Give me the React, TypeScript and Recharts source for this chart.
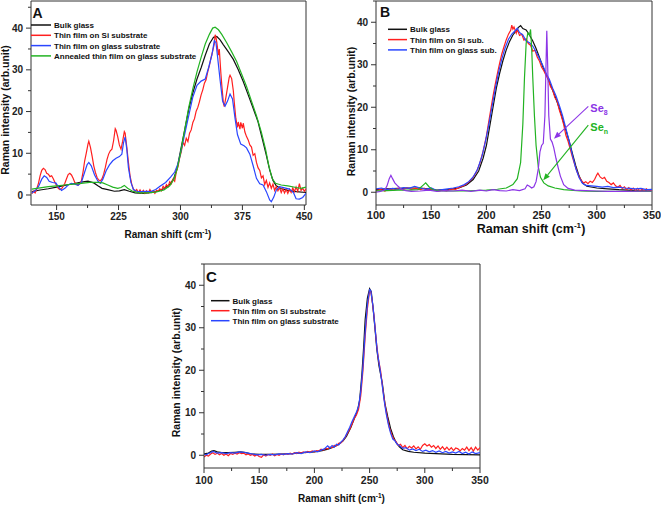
import React from 'react';
import { LineChart, Line, XAxis, YAxis, ReferenceLine } from 'recharts';

type Pt = [number, number];

// ---------- Panel A ----------
const aBulk: Pt[] = [
  [120, 0.8], [130, 1.2], [140, 1.5], [150, 1.9], [160, 2.3], [170, 2.7], [180, 3.1], [188, 3.3], [195, 2.9],
  [200, 2.2], [205, 1.6], [212, 1.3], [220, 0.9], [226, 1.0], [232, 1.3], [238, 0.9], [245, 0.5], [255, 0.4],
  [265, 0.6], [272, 0.9], [280, 1.5], [287, 2.5], [292, 4.0], [296, 6.5], [300, 10.5], [305, 15.5], [310, 20.5],
  [315, 24.5], [320, 27.8], [325, 30.5], [330, 33.5], [335, 36.2], [340, 37.8], [344, 38.0], [348, 37.2],
  [352, 36.0], [358, 34.3], [364, 32.5], [370, 30.0], [376, 27.2], [382, 24.0], [388, 20.8], [394, 17.5],
  [399, 13.5], [404, 9.5], [408, 6.0], [412, 3.5], [416, 2.2], [422, 1.5], [430, 1.1], [440, 0.8], [452, 0.6],
];

const aSiFilm: Pt[] = [
  [120, 0.3], [122, 0.9], [124, 0.5], [126, 1.5], [128, 2.8], [130, 4.6], [132, 5.9], [134, 6.4], [136, 6.1],
  [138, 5.2], [140, 5.0], [142, 4.4], [144, 4.6], [146, 3.9], [148, 3.0], [150, 2.3], [152, 1.6], [154, 1.3],
  [156, 1.5], [158, 2.1], [160, 2.8], [162, 3.9], [164, 4.9], [166, 5.2], [168, 4.8], [170, 4.0], [172, 3.0],
  [174, 2.6], [176, 2.4], [178, 2.7], [180, 3.4], [182, 5.5], [184, 8.2], [186, 10.1], [188, 12.2], [189, 12.9],
  [191, 11.4], [193, 9.3], [195, 7.0], [197, 5.4], [199, 4.2], [201, 3.6], [203, 3.4], [205, 3.9], [207, 5.0],
  [209, 6.6], [211, 8.5], [213, 9.8], [215, 10.6], [217, 11.0], [219, 13.0], [221, 15.9], [222, 15.5], [224, 14.0],
  [226, 12.0], [228, 11.0], [230, 12.9], [232, 15.2], [233, 14.8], [235, 11.5], [237, 7.8], [239, 4.5], [241, 2.6],
  [243, 1.4], [245, 0.9], [247, 1.3], [249, 0.6], [251, 1.2], [253, 0.5], [255, 1.1], [257, 0.4], [259, 1.0],
  [261, 0.5], [263, 1.3], [265, 0.6], [267, 0.9], [269, 0.4], [271, 1.1], [273, 0.9], [275, 1.5], [277, 1.0],
  [279, 2.1], [281, 1.6], [283, 2.5], [285, 2.0], [287, 3.2], [289, 2.7], [291, 3.8], [293, 3.3], [295, 5.6],
  [297, 6.8], [299, 8.9], [301, 10.4], [303, 12.6], [305, 11.9], [307, 13.6], [309, 12.8], [311, 14.8], [313, 15.6],
  [315, 17.4], [317, 18.3], [319, 20.1], [321, 21.0], [323, 22.4], [325, 24.0], [327, 25.2], [329, 26.8], [331, 27.6],
  [333, 29.5], [335, 31.0], [337, 32.9], [339, 34.5], [341, 36.3], [342, 38.4], [343, 37.8], [344, 36.6], [346, 33.5],
  [347, 35.0], [349, 29.0], [350, 26.4], [352, 22.0], [353, 21.2], [355, 23.4], [357, 25.8], [359, 28.2], [360, 28.7],
  [362, 27.9], [364, 25.0], [365, 22.5], [367, 18.4], [369, 16.2], [370, 17.5], [372, 15.8], [373, 17.4], [375, 16.0],
  [376, 17.2], [378, 15.1], [380, 14.0], [382, 13.2], [384, 12.0], [386, 11.5], [388, 9.5], [390, 9.9], [392, 7.8],
  [394, 6.5], [396, 5.9], [398, 4.1], [400, 4.6], [402, 2.5], [404, 3.5], [406, 1.8], [408, 2.9], [410, 1.6],
  [412, 2.6], [414, 1.1], [416, 2.0], [418, 1.0], [420, 1.8], [422, 0.6], [424, 1.5], [426, 0.5], [428, 1.3],
  [430, 0.4], [432, 1.4], [434, 0.6], [436, 1.7], [438, 0.8], [440, 1.9], [442, 0.9], [444, 2.7], [446, 1.1],
  [448, 1.6], [450, 0.9], [452, 1.5],
];

const aGlassFilm: Pt[] = [
  [120, 0.5], [124, 1.0], [128, 2.0], [132, 3.8], [135, 4.6], [138, 4.2], [141, 3.3], [145, 3.0], [149, 2.9],
  [152, 2.0], [156, 1.1], [160, 1.6], [164, 2.4], [168, 2.8], [172, 2.6], [176, 2.3], [180, 3.0], [184, 5.5],
  [187, 7.3], [189, 7.8], [192, 7.0], [196, 4.8], [200, 3.3], [203, 2.8], [206, 3.8], [210, 5.8], [214, 7.2],
  [218, 8.2], [222, 8.8], [226, 9.2], [229, 9.8], [231, 12.5], [233, 13.9], [235, 11.0], [237, 6.5], [240, 3.0],
  [243, 1.3], [247, 0.9], [252, 0.8], [258, 0.9], [264, 0.8], [270, 1.3], [276, 2.2], [282, 3.0], [288, 4.3],
  [293, 5.5], [297, 7.5], [300, 10.0], [305, 14.5], [310, 19.0], [315, 23.5], [320, 26.3], [325, 27.3], [330, 27.8],
  [334, 30.5], [338, 33.5], [341, 37.0], [343, 36.5], [345, 33.0], [348, 27.5], [351, 22.5], [354, 21.3], [357, 22.5],
  [360, 24.2], [363, 23.0], [366, 18.5], [369, 14.5], [373, 12.2], [377, 11.8], [380, 11.3], [384, 9.8], [388, 7.0],
  [392, 4.0], [396, 2.7], [400, 2.4], [404, 0.8], [408, -1.2], [410, -1.6], [413, -0.5], [416, 1.2], [420, 2.0],
  [426, 1.7], [432, 1.4], [437, 0.5], [440, -0.9], [444, -1.0], [448, -0.6], [452, 0.4],
];

const aAnnealed: Pt[] = [
  [120, 1.4], [130, 1.7], [140, 2.0], [150, 2.2], [160, 2.4], [170, 2.6], [180, 2.8], [190, 3.0], [200, 3.0],
  [206, 2.9], [212, 2.4], [218, 1.9], [224, 1.6], [228, 1.8], [232, 2.3], [236, 1.6], [242, 0.9], [250, 0.5],
  [260, 0.5], [270, 0.7], [280, 1.2], [287, 2.2], [292, 3.8], [296, 6.2], [300, 10.0], [305, 15.5], [310, 21.0],
  [315, 25.5], [320, 29.5], [325, 33.0], [330, 36.2], [335, 38.5], [339, 40.0], [342, 40.2], [346, 39.6], [350, 38.5],
  [356, 36.5], [362, 34.3], [368, 32.0], [374, 29.0], [380, 26.0], [386, 22.5], [392, 19.0], [398, 15.0], [403, 11.0],
  [407, 7.0], [411, 4.0], [415, 2.8], [422, 2.4], [430, 2.2], [440, 1.8], [446, 1.6], [452, 1.9],
];

// ---------- Panel B ----------
const bBulk: Pt[] = [
  [100, 0.6], [110, 0.8], [120, 0.9], [130, 1.0], [140, 1.0], [147, 0.8], [155, 0.5], [165, 0.6], [175, 1.0],
  [182, 1.7], [188, 3.0], [193, 5.0], [197, 8.0], [200, 11.0], [203, 15.5], [206, 20.0], [209, 24.5], [212, 28.0],
  [215, 31.0], [218, 33.5], [221, 35.5], [224, 37.0], [227, 38.0], [229, 38.8], [231, 39.2], [233, 38.5], [236, 38.2],
  [239, 37.0], [242, 35.6], [245, 33.8], [248, 31.8], [251, 29.6], [254, 27.8], [257, 25.9], [260, 24.0], [263, 22.0],
  [266, 19.8], [269, 17.2], [272, 14.6], [275, 12.0], [278, 9.0], [281, 6.2], [284, 3.8], [287, 2.2], [291, 1.4],
  [300, 1.0], [310, 0.8], [320, 0.6], [335, 0.4], [350, 0.3],
];

const bSiFilm: Pt[] = [
  [100, 0.4], [104, 0.7], [108, 0.3], [112, 0.8], [116, 0.5], [120, 0.9], [124, 0.6], [128, 1.0], [132, 0.7],
  [136, 0.9], [140, 0.6], [144, 0.9], [148, 0.5], [152, 0.7], [156, 0.2], [160, 0.5], [164, 0.3], [168, 0.8],
  [172, 0.7], [176, 1.2], [180, 1.6], [184, 2.4], [188, 3.5], [191, 4.8], [194, 6.8], [197, 9.6], [200, 13.2],
  [202, 16.4], [204, 19.5], [206, 22.6], [208, 25.4], [210, 28.0], [212, 30.4], [214, 32.6], [216, 34.3], [218, 35.9],
  [220, 37.2], [222, 38.1], [223, 39.3], [224, 38.4], [225, 38.9], [227, 37.4], [228, 38.3], [230, 36.9], [232, 37.2],
  [234, 35.8], [236, 36.1], [238, 35.0], [240, 34.6], [242, 33.2], [244, 33.4], [246, 31.8], [248, 30.9], [250, 29.4],
  [252, 28.6], [254, 27.5], [256, 26.8], [258, 24.9], [260, 24.1], [262, 22.3], [264, 21.5], [266, 19.4], [268, 17.8],
  [270, 15.9], [272, 13.4], [274, 12.0], [276, 10.1], [278, 8.2], [280, 6.5], [282, 4.9], [284, 3.6], [286, 2.8],
  [288, 2.2], [290, 2.5], [292, 2.0], [294, 2.6], [296, 2.3], [298, 3.0], [300, 4.1], [301, 4.5], [303, 3.6],
  [305, 3.2], [307, 3.5], [309, 2.6], [311, 2.3], [313, 1.8], [315, 2.2], [317, 1.5], [319, 1.2], [321, 1.6],
  [323, 0.9], [325, 1.3], [327, 0.6], [329, 1.1], [331, 0.5], [333, 1.0], [335, 0.4], [337, 0.9], [339, 0.3],
  [341, 0.7], [343, 0.4], [345, 0.8], [347, 0.2], [350, 0.5],
];

const bGlassFilm: Pt[] = [
  [100, 0.8], [105, 1.0], [110, 0.6], [115, 0.9], [120, 0.7], [125, 1.1], [130, 0.9], [135, 1.4], [140, 1.0],
  [145, 0.7], [150, 1.0], [155, 0.4], [160, 0.6], [165, 0.8], [170, 1.0], [175, 1.3], [180, 1.8], [184, 2.5],
  [188, 3.6], [192, 5.4], [196, 8.5], [199, 11.8], [202, 15.6], [205, 20.0], [208, 24.3], [211, 28.2], [214, 31.4],
  [217, 34.0], [220, 36.0], [223, 37.2], [226, 38.0], [228, 38.6], [230, 37.6], [233, 37.0], [236, 35.6], [239, 35.2],
  [242, 34.4], [245, 33.0], [248, 31.5], [251, 29.9], [254, 28.0], [257, 26.6], [260, 24.5], [263, 22.7], [266, 20.5],
  [269, 18.0], [272, 15.0], [275, 12.0], [278, 8.6], [281, 5.6], [284, 3.4], [287, 2.1], [290, 1.6], [295, 1.5],
  [300, 1.4], [305, 1.2], [310, 1.4], [315, 1.1], [320, 1.2], [325, 1.0], [330, 0.9], [335, 0.8], [340, 0.9],
  [345, 0.6], [350, 0.7],
];

const bSen: Pt[] = [
  [100, 0.3], [110, 0.4], [120, 0.5], [130, 0.5], [138, 0.6], [142, 1.5], [145, 2.2], [148, 1.3], [152, 0.5],
  [160, 0.3], [170, 0.3], [180, 0.3], [190, 0.4], [200, 0.5], [210, 0.7], [218, 1.0], [224, 1.8], [228, 3.2],
  [231, 7.0], [233, 16.0], [234.5, 27.0], [236, 35.0], [237.5, 37.5], [239, 37.0], [240, 38.3], [241, 34.0],
  [242, 27.0], [243.5, 18.0], [245, 11.0], [247, 6.0], [249, 3.5], [252, 2.2], [256, 1.5], [262, 1.0], [270, 0.6],
  [285, 0.3], [300, 0.2], [350, 0.2],
];

const bSe8: Pt[] = [
  [100, 0.0], [104, 0.2], [108, 0.6], [110, 1.5], [112, 3.2], [113.5, 4.0], [115, 3.2], [117, 2.2], [120, 1.4],
  [123, 0.7], [127, 0.4], [132, 0.2], [140, 0.3], [148, 0.5], [155, 0.2], [162, 0.4], [170, 0.3], [178, 0.5],
  [186, 0.2], [194, 0.5], [200, 0.3], [206, 0.6], [212, 0.4], [218, 0.3], [224, 0.6], [230, 0.4], [235, 0.8],
  [237, 1.7], [239, 1.4], [241, 1.0], [243, 1.3], [245, 2.5], [247, 5.5], [248.5, 9.5], [250, 11.0], [251.5, 11.5],
  [253, 18.0], [254, 30.0], [254.7, 38.0], [255.5, 30.0], [256.5, 18.0], [258, 12.5], [259.5, 11.8], [261, 10.5],
  [263, 8.0], [265, 5.8], [267, 3.8], [270, 1.8], [274, 0.9], [280, 0.5], [290, 0.4], [300, 0.3], [310, 0.2],
  [325, 0.2], [350, 0.3],
];

// ---------- Panel C ----------
const cBulk: Pt[] = [
  [100, 0.3], [104, 0.5], [107, 1.0], [109, 1.1], [112, 0.8], [116, 0.6], [122, 0.6], [128, 0.7], [133, 0.8],
  [138, 0.6], [143, 0.3], [150, 0.2], [160, 0.2], [170, 0.3], [180, 0.4], [190, 0.6], [200, 0.8], [207, 1.1],
  [213, 1.5], [218, 2.0], [222, 2.6], [226, 3.4], [229, 4.4], [233, 6.5], [236, 8.5], [239, 10.5], [241, 13.0],
  [243, 19.0], [244.5, 25.0], [246, 32.0], [248, 37.0], [250, 39.2], [251.5, 38.5], [253, 35.0], [255, 29.5],
  [256.5, 25.0], [258.5, 21.0], [261.5, 17.0], [264, 12.0], [266.5, 9.0], [269, 6.3], [271.5, 4.4], [274, 3.0],
  [277, 2.0], [280, 1.3], [285, 0.9], [290, 0.7], [300, 0.5], [310, 0.4], [325, 0.2], [350, 0.1],
];

const cSiFilm: Pt[] = [
  [100, -0.4], [102, 0.0], [104, -0.2], [106, 0.3], [108, 0.6], [110, 0.2], [112, 0.5], [114, 0.1], [116, 0.4],
  [118, 0.0], [120, 0.3], [122, -0.1], [124, 0.4], [126, 0.2], [128, 0.5], [130, 0.3], [132, 0.6], [134, 0.4],
  [136, 0.5], [138, 0.1], [140, 0.3], [142, 0.0], [144, 0.2], [146, -0.2], [148, 0.1], [150, -0.3], [152, -0.5],
  [154, 0.1], [156, -0.2], [158, 0.2], [160, 0.0], [162, 0.3], [164, -0.1], [166, 0.2], [168, 0.0], [170, 0.3],
  [172, 0.1], [174, 0.4], [176, 0.2], [178, 0.5], [180, 0.3], [182, 0.6], [184, 0.4], [186, 0.7], [188, 0.5],
  [190, 0.8], [192, 0.6], [194, 0.9], [196, 0.7], [198, 1.0], [200, 0.8], [202, 1.1], [204, 1.0], [206, 1.4],
  [208, 1.2], [210, 1.6], [212, 1.5], [214, 1.9], [216, 1.8], [218, 2.3], [220, 2.2], [222, 2.8], [224, 2.9],
  [226, 3.5], [228, 4.3], [230, 5.2], [232, 6.1], [234, 7.3], [236, 8.6], [238, 9.4], [240, 10.8], [242, 14.0],
  [244, 20.0], [246, 28.0], [248, 34.5], [250, 38.7], [251, 38.5], [252, 37.0], [254, 32.8], [256, 27.0], [258, 22.6],
  [260, 19.8], [262, 15.5], [264, 11.8], [266, 8.9], [268, 6.4], [270, 4.9], [272, 3.7], [274, 3.2], [276, 2.3],
  [278, 2.6], [280, 1.8], [282, 2.3], [284, 1.5], [286, 2.1], [288, 1.7], [290, 2.2], [292, 1.5], [294, 2.0],
  [296, 1.4], [298, 2.3], [300, 2.7], [302, 2.2], [304, 2.5], [306, 1.9], [308, 2.3], [310, 1.6], [312, 2.2],
  [314, 1.4], [316, 2.0], [318, 1.3], [320, 1.9], [322, 1.2], [324, 1.8], [326, 1.1], [328, 1.7], [330, 1.5],
  [332, 1.0], [334, 1.6], [336, 1.2], [338, 1.9], [340, 1.1], [342, 1.8], [344, 1.0], [346, 1.9], [348, 1.2],
  [350, 1.8],
];

const cGlassFilm: Pt[] = [
  [100, 0.3], [102, 0.1], [104, 0.4], [106, 0.6], [108, 0.9], [110, 0.7], [112, 0.5], [116, 0.6], [120, 0.4],
  [124, 0.6], [128, 0.5], [132, 0.8], [136, 0.7], [140, 0.5], [144, 0.3], [148, 0.1], [152, 0.2], [156, 0.0],
  [160, 0.2], [164, 0.1], [168, 0.3], [172, 0.2], [176, 0.4], [180, 0.3], [184, 0.6], [188, 0.4], [192, 0.8],
  [196, 0.6], [200, 1.0], [203, 0.8], [206, 1.2], [209, 1.5], [212, 2.2], [214, 1.7], [216, 2.3], [218, 1.9],
  [220, 2.6], [222, 2.4], [224, 3.1], [226, 3.6], [228, 4.4], [230, 5.5], [232, 6.6], [234, 7.9], [236, 9.0],
  [238, 10.1], [240, 11.5], [242, 15.0], [244, 21.0], [246, 29.0], [248, 35.5], [250, 39.0], [251, 38.8], [253, 35.2],
  [255, 29.8], [257, 24.3], [259, 21.0], [261, 17.4], [263, 13.2], [265, 9.8], [267, 7.2], [269, 5.2], [271, 3.8],
  [273, 3.4], [275, 2.6], [277, 2.3], [280, 1.6], [283, 1.8], [286, 1.2], [289, 1.5], [292, 1.1], [295, 1.4],
  [298, 0.9], [301, 1.2], [304, 0.8], [307, 1.1], [310, 0.7], [313, 1.0], [316, 0.6], [319, 0.9], [322, 0.5],
  [325, 0.8], [328, 0.5], [331, 0.9], [334, 0.4], [337, 0.7], [340, 0.3], [343, 0.8], [346, 0.4], [350, 0.6],
];

// ---------- ticks & legend text ----------
const aXTicks = [150, 187.5, 225, 262.5, 300, 337.5, 375, 412.5, 450];
const bcXTicks = [100, 125, 150, 175, 200, 225, 250, 275, 300, 325, 350];
const yTicks = [0, 5, 10, 15, 20, 25, 30, 35, 40, 45];

const aNames = ['Bulk glass', 'Thin film on Si substrate', 'Thin film on glass substrate', 'Annealed thin film on glass substrate'];
const bNames = ['Bulk glass', 'Thin film on Si sub.', 'Thin film on glass sub.'];
const cNames = ['Bulk glass', 'Thin film on Si substrate', 'Thin film on glass substrate'];

const FONT = '"Liberation Sans", Arial, Helvetica, sans-serif';
const AXIS = '#333';
const BLACK = '#111';
const RED = '#ff1f1f';
const BLUE = '#2a46ff';
const GREEN = '#22b322';
const PURPLE = '#8c35e6';

const toPts = (arr: Pt[]) => arr.map(([x, y]) => ({ x, y }));

const makeXTick = (step: number, fontSize: number, gap: number) => (props: any) => {
  const { x, y, payload } = props;
  const v = payload.value as number;
  const major = Math.abs(v / step - Math.round(v / step)) < 1e-6;
  return (
    <g>
      <line x1={x} y1={y} x2={x} y2={y + (major ? 5 : 3)} stroke={AXIS} />
      {major && (
        <text x={x} y={y + gap} textAnchor="middle" fontSize={fontSize} fontWeight="bold" fill="#222" fontFamily={FONT}>
          {v}
        </text>
      )}
    </g>
  );
};

const YTick = (props: any) => {
  const { x, y, payload } = props;
  const v = payload.value as number;
  const major = v % 10 === 0;
  return (
    <g>
      <line x1={x} y1={y} x2={x - (major ? 5 : 3)} y2={y} stroke={AXIS} />
      {major && (
        <text x={x - 8} y={y + 3.6} textAnchor="end" fontSize={10} fontWeight="bold" fill="#222" fontFamily={FONT}>
          {v}
        </text>
      )}
    </g>
  );
};

// arrow drawn between two data points, with the peak name next to its tail
const arrowShape = (color: string, sub: string) => (props: any) => {
  const { x1, y1, x2, y2 } = props;
  const dx = x2 - x1;
  const dy = y2 - y1;
  const len = Math.sqrt(dx * dx + dy * dy) || 1;
  const ux = dx / len;
  const uy = dy / len;
  const hl = 7;
  const hw = 2.8;
  const bx = x2 - ux * hl;
  const by = y2 - uy * hl;
  const head = `${x2},${y2} ${bx - uy * hw},${by + ux * hw} ${bx + uy * hw},${by - ux * hw}`;
  return (
    <g>
      <line x1={x1} y1={y1} x2={bx} y2={by} stroke={color} strokeWidth={1.1} />
      <polygon points={head} fill={color} />
      <text x={x1 + 2} y={y1 + 6} fill={color} fontSize={11} fontWeight="bold" fontFamily={FONT}>
        Se
        <tspan fontSize={7} dy={3}>{sub}</tspan>
      </text>
    </g>
  );
};

type Series = { data: Pt[]; color: string };

const Panel = ({
  width, height, margin, xDomain, yDomain, xTicks, xStep, xFont, xGap, series, children,
}: {
  width: number; height: number; margin: any; xDomain: [number, number]; yDomain: [number, number];
  xTicks: number[]; xStep: number; xFont: number; xGap: number; series: Series[]; children?: React.ReactNode;
}) => (
  <LineChart width={width} height={height} margin={margin}>
    <XAxis
      type="number"
      dataKey="x"
      domain={xDomain}
      allowDataOverflow
      ticks={xTicks}
      interval={0}
      tickLine={false}
      tickSize={0}
      tickMargin={0}
      height={20}
      stroke={AXIS}
      tick={makeXTick(xStep, xFont, xGap)}
    />
    <YAxis
      type="number"
      dataKey="y"
      domain={yDomain}
      allowDataOverflow
      ticks={yTicks.filter((t) => t <= yDomain[1])}
      interval={0}
      tickLine={false}
      tickSize={0}
      tickMargin={0}
      width={30}
      stroke={AXIS}
      tick={YTick}
    />
    <ReferenceLine y={yDomain[1]} stroke={AXIS} />
    <ReferenceLine x={xDomain[1]} stroke={AXIS} />
    {series.map((s, i) => (
      <Line
        key={i}
        data={toPts(s.data)}
        dataKey="y"
        type="linear"
        stroke={s.color}
        strokeWidth={1.2}
        dot={false}
        isAnimationActive={false}
      />
    ))}
    {children}
  </LineChart>
);

const LegendBlock = ({ x, y, gap, len, names, colors }: { x: number; y: number; gap: number; len: number; names: string[]; colors: string[] }) => (
  <g>
    {names.map((n, i) => (
      <g key={n + i}>
        <line x1={x} x2={x + len} y1={y + i * gap} y2={y + i * gap} stroke={colors[i]} strokeWidth={1.5} />
        <text x={x + len + 3} y={y + i * gap + 3} fontSize={8} fontWeight="bold" fill="#111" fontFamily={FONT}>
          {n}
        </text>
      </g>
    ))}
  </g>
);

const XLabel = ({ x, y, size }: { x: number; y: number; size: number }) => (
  <text x={x} y={y} textAnchor="middle" fontSize={size} fontWeight="bold" fill="#111" fontFamily={FONT}>
    Raman shift (cm
    <tspan fontSize={size * 0.65} dy={-size * 0.4}>-1</tspan>
    <tspan dy={size * 0.4}>)</tspan>
  </text>
);

const YLabel = ({ x, y }: { x: number; y: number }) => (
  <text transform={`translate(${x},${y}) rotate(-90)`} textAnchor="middle" fontSize={10.5} fontWeight="bold" fill="#111" fontFamily={FONT}>
    Raman intensity (arb.unit)
  </text>
);

export default function App() {
  return (
    <div style={{ position: 'absolute', left: 0, top: 0, width: 661, height: 505, background: '#fff', fontFamily: FONT }}>
      <div style={{ position: 'absolute', left: 0, top: 0 }}>
        <Panel
          width={320}
          height={232}
          margin={{ top: 1, right: 14, left: 1, bottom: 7 }}
          xDomain={[119, 452]}
          yDomain={[-2.4, 46.5]}
          xTicks={aXTicks}
          xStep={75}
          xFont={10}
          xGap={15}
          series={[
            { data: aBulk, color: BLACK },
            { data: aSiFilm, color: RED },
            { data: aGlassFilm, color: BLUE },
            { data: aAnnealed, color: GREEN },
          ]}
        />
      </div>
      <div style={{ position: 'absolute', left: 345, top: 0 }}>
        <Panel
          width={316}
          height={232}
          margin={{ top: 1, right: 9, left: 1, bottom: 7 }}
          xDomain={[100, 350]}
          yDomain={[-3, 45]}
          xTicks={bcXTicks}
          xStep={50}
          xFont={11}
          xGap={14}
          series={[
            { data: bBulk, color: BLACK },
            { data: bSiFilm, color: RED },
            { data: bGlassFilm, color: BLUE },
            { data: bSen, color: GREEN },
            { data: bSe8, color: PURPLE },
          ]}
        >
          <ReferenceLine segment={[{ x: 292.3, y: 20.2 }, { x: 261.2, y: 12.6 }]} shape={arrowShape(PURPLE, '8')} />
          <ReferenceLine segment={[{ x: 292.3, y: 15.8 }, { x: 251.5, y: 2.8 }]} shape={arrowShape(GREEN, 'n')} />
        </Panel>
      </div>
      <div style={{ position: 'absolute', left: 173, top: 250 }}>
        <Panel
          width={320}
          height={255}
          margin={{ top: 14, right: 13, left: 1, bottom: 17 }}
          xDomain={[100, 350]}
          yDomain={[-3, 45]}
          xTicks={bcXTicks}
          xStep={50}
          xFont={10.5}
          xGap={15.5}
          series={[
            { data: cBulk, color: BLACK },
            { data: cSiFilm, color: RED },
            { data: cGlassFilm, color: BLUE },
          ]}
        />
      </div>
      <svg width={661} height={505} style={{ position: 'absolute', left: 0, top: 0, pointerEvents: 'none' }}>
        <text x={32.5} y={18.3} fontSize={14} fontWeight="bold" fill="#111" fontFamily={FONT}>A</text>
        <text x={380} y={17.3} fontSize={14} fontWeight="bold" fill="#111" fontFamily={FONT}>B</text>
        <text x={206} y={281.5} fontSize={15} fontWeight="bold" fill="#111" fontFamily={FONT}>C</text>

        <LegendBlock x={31} y={25} gap={10.3} len={20} names={aNames} colors={[BLACK, RED, BLUE, GREEN]} />
        <LegendBlock x={388} y={29.3} gap={10.3} len={19} names={bNames} colors={[BLACK, RED, BLUE]} />
        <LegendBlock x={211} y={300.7} gap={10} len={18.5} names={cNames} colors={[BLACK, RED, BLUE]} />

        <YLabel x={8.5} y={110} />
        <YLabel x={355} y={111.5} />
        <YLabel x={180} y={372.5} />

        <XLabel x={168} y={238} size={10} />
        <XLabel x={531} y={233} size={12.5} />
        <XLabel x={341.5} y={502} size={10} />
      </svg>
    </div>
  );
}
